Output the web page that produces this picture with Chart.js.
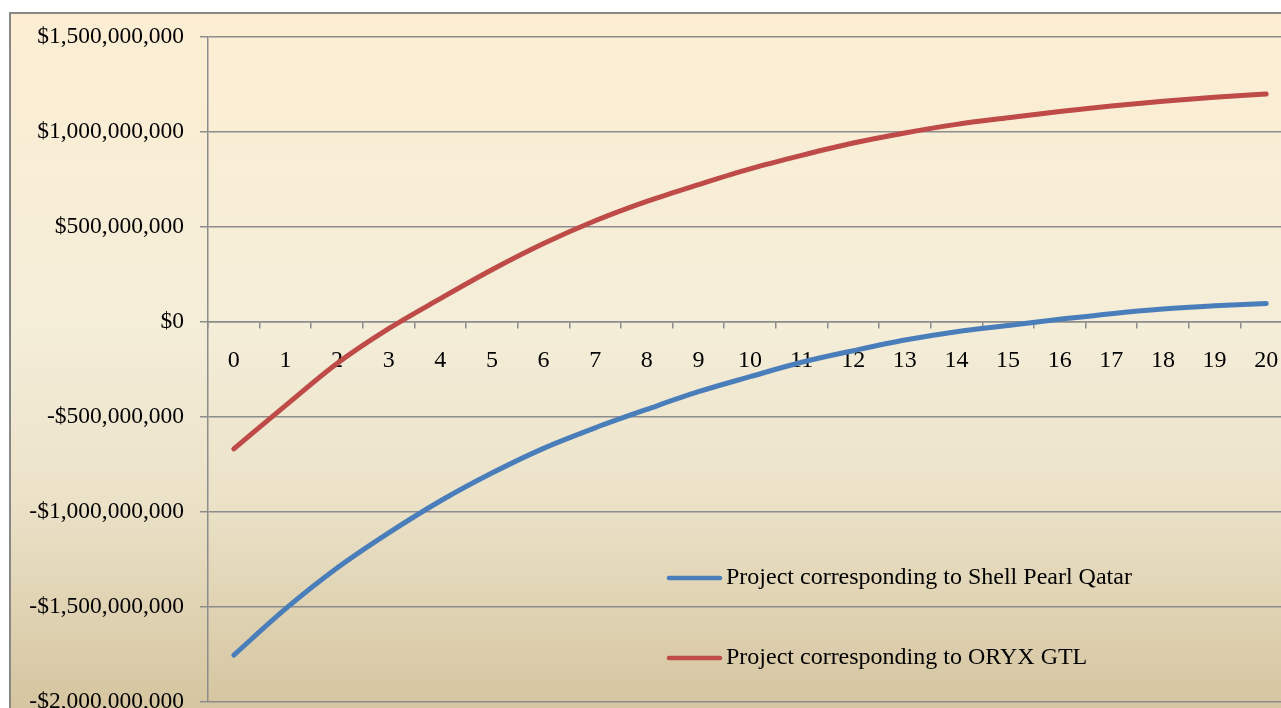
<!DOCTYPE html>
<html>
<head>
<meta charset="utf-8">
<script src="https://cdn.jsdelivr.net/npm/chart.js@4"></script>
<style>
  html, body { margin: 0; padding: 0; overflow: hidden; background: #fff; }
  #wrap { position: absolute; left: 0; top: 0; width: 1320px; height: 740px; }
</style>
</head>
<body>
<div id="wrap"><canvas id="myChart"></canvas></div>
<script>
// years after start
const years = ['0','1','2','3','4','5','6','7','8','9','10','11','12','13','14','15','16','17','18','19','20'];
// cumulative value, dollars
const shellPearl = [-1753e6, -1510e6, -1295e6, -1110e6, -942e6, -795e6, -665e6, -557e6, -460e6, -367e6,
  -288e6, -212e6, -151e6, -95e6, -51e6, -18e6, 14e6, 44e6, 68e6, 85e6, 98e6];
const oryxGtl = [-668e6, -440e6, -218e6, -35e6, 123e6, 275e6, 413e6, 533e6, 635e6, 723e6,
  806e6, 877e6, 942e6, 995e6, 1040e6, 1075e6, 1108e6, 1137e6, 1162e6, 1183e6, 1200e6];
const seriesNames = ['Project corresponding to Shell Pearl Qatar', 'Project corresponding to ORYX GTL'];
const yMin = -2000000000, yMax = 1500000000, yStep = 500000000;

const serif = '"Liberation Serif", "Times New Roman", serif';
const gridGray = '#8c8c8c';

const backdrop = {
  id: 'backdrop',
  beforeDraw(chart) {
    const c = chart.ctx;
    c.save();
    c.fillStyle = '#fff';
    c.fillRect(0, 0, chart.width, chart.height);
    const g = c.createLinearGradient(0, 13, 0, 708);
    g.addColorStop(0, '#fdeed3');
    g.addColorStop(0.45, '#f4edd8');
    g.addColorStop(0.7, '#ebe2c8');
    g.addColorStop(1, '#d5c5a0');
    c.fillStyle = g;
    c.fillRect(10, 13, chart.width, chart.height);
    c.strokeStyle = '#888';
    c.lineWidth = 2;
    c.strokeRect(10, 13, chart.width + 20, chart.height + 20);
    c.restore();
  }
};

// legend drawn inside the plot, bottom right
const innerLegend = {
  id: 'innerLegend',
  afterDraw(chart) {
    const c = chart.ctx;
    c.save();
    c.font = '24px ' + serif;
    c.textBaseline = 'middle';
    c.fillStyle = '#000';
    chart.data.datasets.forEach((ds, i) => {
      const y = 578 + i * 80;
      c.strokeStyle = ds.borderColor;
      c.lineWidth = 4.5;
      c.lineCap = 'round';
      c.beginPath();
      c.moveTo(669, y);
      c.lineTo(720, y);
      c.stroke();
      c.fillText(ds.label, 726, y);
    });
    c.restore();
  }
};

const ctx = document.getElementById('myChart').getContext('2d');
const myChart = new Chart(ctx, {
  type: 'line',
  data: {
    labels: years,
    datasets: [{
      label: seriesNames[0],
      data: shellPearl,
      borderColor: '#4a7ebb',
      borderWidth: 5,
      borderCapStyle: 'round',
      pointRadius: 0,
      cubicInterpolationMode: 'monotone',
      fill: false
    }, {
      label: seriesNames[1],
      data: oryxGtl,
      borderColor: '#be4b48',
      borderWidth: 5,
      borderCapStyle: 'round',
      pointRadius: 0,
      cubicInterpolationMode: 'monotone',
      fill: false
    }]
  },
  options: {
    responsive: true,
    maintainAspectRatio: false,
    animation: false,
    layout: { padding: { left: 0, top: 37, right: 28, bottom: 38 } },
    plugins: { legend: { display: false }, tooltip: { enabled: false } },
    scales: {
      x: {
        position: { y: 0 },
        offset: true,
        grid: { display: true, drawOnChartArea: false, drawTicks: true, tickLength: 6, offset: true, color: gridGray, lineWidth: 1.5 },
        border: { display: true, color: gridGray, width: 1.5 },
        ticks: { color: '#000', font: { family: serif, size: 24 }, padding: 18, maxRotation: 0, autoSkip: false }
      },
      y: {
        min: yMin,
        max: yMax,
        afterFit(scale) { scale.width = 208; },
        grid: { color: gridGray, lineWidth: 1.5, drawTicks: true, tickLength: 8 },
        border: { display: true, color: gridGray, width: 1.5 },
        ticks: {
          stepSize: yStep,
          color: '#000',
          padding: 16,
          font: { family: serif, size: 23.5 },
          callback: (v) => (v < 0 ? '-' : '') + '$' + Math.abs(v).toLocaleString('en-US')
        }
      }
    }
  },
  plugins: [backdrop, innerLegend]
});
</script>
</body>
</html>
